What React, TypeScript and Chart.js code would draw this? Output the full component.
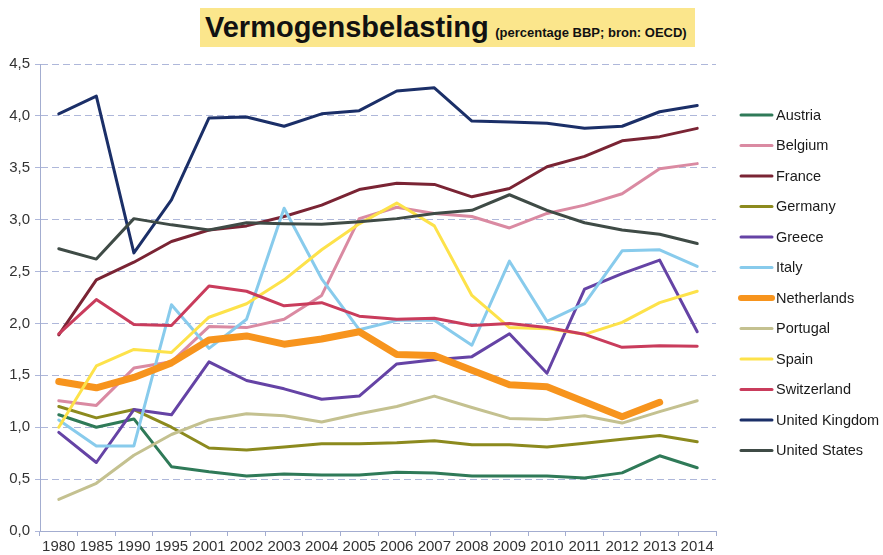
import React, { useEffect, useRef } from "react";
import { Chart, registerables } from "chart.js";

Chart.register(...registerables);

const years = ["1980", "1985", "1990", "1995", "2001", "2002", "2003", "2004", "2005", "2006", "2007", "2008", "2009", "2010", "2011", "2012", "2013", "2014"];

const austria = [1.12, 1.0, 1.08, 0.62, 0.57, 0.53, 0.55, 0.54, 0.54, 0.565, 0.56, 0.53, 0.53, 0.53, 0.51, 0.56, 0.725, 0.61];
const belgium = [1.255, 1.21, 1.57, 1.63, 1.97, 1.96, 2.04, 2.27, 3.01, 3.12, 3.06, 3.03, 2.92, 3.06, 3.14, 3.25, 3.49, 3.54];
const france = [1.89, 2.42, 2.59, 2.79, 2.9, 2.94, 3.03, 3.14, 3.29, 3.35, 3.34, 3.22, 3.3, 3.51, 3.61, 3.76, 3.8, 3.88];
const germany = [1.2, 1.09, 1.17, 1.0, 0.8, 0.78, 0.81, 0.84, 0.84, 0.85, 0.87, 0.83, 0.83, 0.81, 0.845, 0.885, 0.92, 0.86];
const greece = [0.95, 0.66, 1.17, 1.12, 1.63, 1.45, 1.37, 1.27, 1.3, 1.61, 1.65, 1.68, 1.9, 1.52, 2.33, 2.48, 2.61, 1.92];
const italy = [1.07, 0.82, 0.82, 2.18, 1.76, 2.04, 3.11, 2.43, 1.94, 2.03, 2.03, 1.79, 2.6, 2.02, 2.19, 2.7, 2.71, 2.55];
const netherlands = [1.44, 1.38, 1.48, 1.62, 1.84, 1.88, 1.8, 1.85, 1.92, 1.7, 1.69, 1.55, 1.41, 1.39, 1.245, 1.1, 1.24, null];
const portugal = [0.305, 0.46, 0.73, 0.93, 1.07, 1.13, 1.11, 1.05, 1.13, 1.2, 1.3, 1.19, 1.085, 1.075, 1.11, 1.04, 1.15, 1.255];
const spain = [1.0, 1.59, 1.75, 1.72, 2.06, 2.19, 2.42, 2.71, 2.96, 3.16, 2.94, 2.27, 1.96, 1.95, 1.895, 2.01, 2.2, 2.31];
const switzerland = [1.9, 2.23, 1.99, 1.98, 2.36, 2.31, 2.17, 2.2, 2.07, 2.04, 2.05, 1.98, 2.0, 1.96, 1.895, 1.77, 1.785, 1.78];
const unitedKingdom = [4.02, 4.19, 2.68, 3.19, 3.98, 3.99, 3.9, 4.02, 4.05, 4.24, 4.27, 3.95, 3.94, 3.93, 3.88, 3.9, 4.04, 4.1];
const unitedStates = [2.72, 2.62, 3.01, 2.95, 2.9, 2.97, 2.96, 2.955, 2.98, 3.01, 3.06, 3.09, 3.24, 3.09, 2.97, 2.9, 2.86, 2.77];

const seriesNames = ["Austria", "Belgium", "France", "Germany", "Greece", "Italy", "Netherlands", "Portugal", "Spain", "Switzerland", "United Kingdom", "United States"];
const seriesValues = [austria, belgium, france, germany, greece, italy, netherlands, portugal, spain, switzerland, unitedKingdom, unitedStates];
const seriesColors = ["#2f7a58", "#da8aa2", "#7a2434", "#8c8a1e", "#6543a5", "#88cbec", "#f7941d", "#c4c190", "#fde24a", "#c93c5c", "#1b2f68", "#3f4b46"];
const seriesWidths = [3, 3, 3, 3, 3, 3, 7, 3, 3, 3, 3, 3];

const FONT = "'Liberation Sans', Arial, sans-serif";

const legendPlugin = {
  id: "sideLegend",
  afterDraw(chart: any) {
    const ctx = chart.ctx;
    const ds = chart.data.datasets;
    ctx.save();
    ds.forEach((d: any, i: number) => {
      const y = 115 + i * 30.5;
      ctx.beginPath();
      ctx.strokeStyle = d.borderColor;
      ctx.lineWidth = d.borderWidth > 4 ? 6 : 3;
      ctx.lineCap = "round";
      ctx.moveTo(741, y);
      ctx.lineTo(772, y);
      ctx.stroke();
      ctx.fillStyle = "#1a1a1a";
      ctx.font = `14.5px ${FONT}`;
      ctx.textBaseline = "middle";
      ctx.textAlign = "left";
      ctx.fillText(d.label, 776, y + 0.5);
    });
    ctx.restore();
  },
};

export default function App() {
  const ref = useRef<HTMLCanvasElement | null>(null);

  useEffect(() => {
    if (!ref.current) return;
    const n = seriesNames.length;
    const chart = new Chart(ref.current, {
      type: "line",
      data: {
        labels: years,
        datasets: seriesNames.map((name, i) => ({
          label: name,
          data: seriesValues[i],
          borderColor: seriesColors[i],
          backgroundColor: seriesColors[i],
          borderWidth: seriesWidths[i],
          pointRadius: 0,
          tension: 0,
          borderJoinStyle: "round" as const,
          borderCapStyle: "round" as const,
          order: n - i,
          spanGaps: false,
        })),
      },
      options: {
        responsive: false,
        animation: false,
        layout: { padding: { top: 64, left: 0, right: 167, bottom: 0 } },
        plugins: {
          legend: { display: false },
          title: { display: false },
          tooltip: { enabled: false },
        },
        scales: {
          x: {
            offset: true,
            grid: {
              display: true,
              drawOnChartArea: false,
              drawTicks: true,
              tickLength: 5,
              color: "#a3add0",
              offset: true,
            },
            border: { display: true, color: "#a3add0", width: 1 },
            ticks: {
              color: "#333333",
              font: { family: FONT, size: 15 },
              padding: 2,
              maxRotation: 0,
              autoSkip: false,
            },
            afterFit: (scale: any) => {
              scale.height = 24;
            },
          },
          y: {
            min: 0,
            max: 4.5,
            ticks: {
              stepSize: 0.5,
              color: "#333333",
              font: { family: FONT, size: 15 },
              padding: 5,
              callback: (v: any) => Number(v).toFixed(1).replace(".", ","),
            },
            grid: {
              color: "#aeb7da",
              lineWidth: 1,
              drawTicks: true,
              tickLength: 5,
            },
            border: { display: true, color: "#a3add0", width: 1, dash: [7, 4] },
            afterFit: (scale: any) => {
              scale.width = 40;
            },
          },
        },
      },
      plugins: [legendPlugin],
    });
    return () => chart.destroy();
  }, []);

  return (
    <div style={{ position: "absolute", left: 0, top: 0, width: 883, height: 555, background: "#ffffff" }}>
      <canvas ref={ref} width={883} height={555} style={{ position: "absolute", left: 0, top: 0 }} />
      <div
        style={{
          position: "absolute",
          left: 200,
          top: 8,
          width: 495,
          height: 39,
          background: "#fbe68c",
          fontFamily: FONT,
          fontWeight: "bold",
          lineHeight: "39px",
          whiteSpace: "nowrap",
          color: "#111",
          boxSizing: "border-box",
          paddingLeft: 5,
        }}
      >
        <span style={{ fontSize: 29 }}>Vermogensbelasting</span>
        <span style={{ fontSize: 13, marginLeft: 3 }}> (percentage BBP; bron: OECD)</span>
      </div>
    </div>
  );
}
